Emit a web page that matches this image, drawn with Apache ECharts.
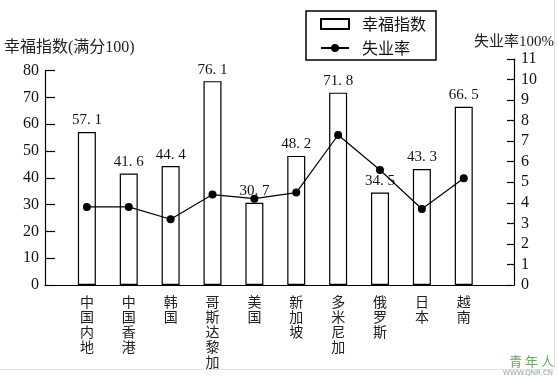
<!DOCTYPE html>
<html>
<head>
<meta charset="utf-8">
<script src="https://cdn.jsdelivr.net/npm/echarts@6/dist/echarts.min.js"></script>
<style>
html,body{margin:0;padding:0;background:#fff;}
#chart{width:558px;height:379px;}
</style>
</head>
<body>
<div id="chart"></div>
<script>
var categories = ['中国内地','中国香港','韩国','哥斯达黎加','美国','新加坡','多米尼加','俄罗斯','日本','越南'];
var happiness = [57.1, 41.6, 44.4, 76.1, 30.7, 48.2, 71.8, 34.5, 43.3, 66.5];
var unemployment = [3.8, 3.8, 3.2, 4.4, 4.2, 4.5, 7.3, 5.6, 3.7, 5.2];
var leftTicks = {min: 0, max: 80, interval: 10};
var rightTicks = {min: 0, max: 11, interval: 1};

var SERIF = '"Liberation Serif","DejaVu Serif","Noto Sans CJK SC",serif';
var CJK = '"Noto Sans CJK SC",sans-serif';

var chart = echarts.init(document.getElementById('chart'));
var xMin = -1, xMax = 10.2;

chart.setOption({
  backgroundColor: '#fff',
  animation: false,
  title: {
    text: '幸福指数(满分100)',
    left: 4, top: 40, padding: 0,
    textStyle: {fontFamily: SERIF, fontSize: 16, fontWeight: 'normal', color: '#222'}
  },
  legend: {
    data: [{name: '幸福指数', icon: 'rect'}, {name: '失业率'}],
    orient: 'vertical',
    left: 306,
    top: 11,
    padding: [5, 10, 4, 14],
    itemWidth: 28,
    itemHeight: 10,
    itemGap: 8,
    borderColor: '#000',
    borderWidth: 1.5,
    textStyle: {fontFamily: CJK, fontSize: 16, color: '#111', padding: [0, 0, 0, 8]}
  },
  grid: [
    {left: 45, right: 44, top: 70.7, bottom: 94},
    {left: 45, right: 44, top: 59, bottom: 94}
  ],
  xAxis: [
    {
      type: 'value', gridIndex: 0, min: xMin, max: xMax, interval: 1,
      axisLine: {show: true, onZero: false, lineStyle: {color: '#000', width: 1.2}},
      axisTick: {show: false},
      splitLine: {show: false},
      axisLabel: {
        showMaxLabel: false, showMinLabel: false,
        margin: 9,
        fontFamily: CJK, fontSize: 14, lineHeight: 15, color: '#222',
        verticalAlign: 'top',
        formatter: function (v) {
          var i = Math.round(v);
          if (Math.abs(v - i) > 1e-6 || i < 0 || i >= categories.length) return '';
          return categories[i].split('').join('\n');
        }
      }
    },
    {
      type: 'value', gridIndex: 1, min: xMin, max: xMax, interval: 1, show: false,
      axisLine: {onZero: false}
    }
  ],
  yAxis: [
    {
      type: 'value', gridIndex: 0, position: 'left',
      min: leftTicks.min, max: leftTicks.max, interval: leftTicks.interval,
      axisLine: {show: true, onZero: false, lineStyle: {color: '#000', width: 1.2}},
      axisTick: {show: true, inside: true, length: 10, lineStyle: {color: '#000', width: 1.2}},
      splitLine: {show: false},
      axisLabel: {margin: 6, fontFamily: SERIF, fontSize: 16, color: '#111'}
    },
    {
      type: 'value', gridIndex: 1, position: 'right',
      min: rightTicks.min, max: rightTicks.max, interval: rightTicks.interval,
      name: '失业率100%',
      nameLocation: 'end',
      nameGap: 9,
      nameTextStyle: {fontFamily: SERIF, fontSize: 15, color: '#222', align: 'center'},
      axisLine: {show: true, onZero: false, lineStyle: {color: '#000', width: 1.2}},
      axisTick: {show: true, inside: true, length: 7, lineStyle: {color: '#000', width: 1.2}},
      splitLine: {show: false},
      axisLabel: {margin: 7, fontFamily: SERIF, fontSize: 16, color: '#111'}
    }
  ],
  series: [
    {
      name: '幸福指数',
      type: 'bar',
      xAxisIndex: 0, yAxisIndex: 0,
      barWidth: 18,
      data: happiness.map(function (v, i) { return [i, v]; }),
      itemStyle: {color: '#fff', borderColor: '#000', borderWidth: 1.2},
      label: {
        show: true, position: 'top', distance: 4,
        fontFamily: SERIF, fontSize: 15, color: '#111',
        formatter: function (p) { return String(p.value[1]).replace('.', '. '); }
      },
      z: 2
    },
    {
      name: '失业率',
      type: 'line',
      xAxisIndex: 1, yAxisIndex: 1,
      data: unemployment.map(function (v, i) { return [i, v]; }),
      symbol: 'circle',
      symbolSize: 8,
      itemStyle: {color: '#000'},
      lineStyle: {color: '#000', width: 1.2},
      z: 5
    }
  ],
  graphic: [
    {type: 'line', shape: {x1: 0, y1: 369.5, x2: 554, y2: 369.5}, style: {stroke: '#e2e2e2', lineWidth: 1}, silent: true},
    {type: 'line', shape: {x1: 554.5, y1: 0, x2: 554.5, y2: 369}, style: {stroke: '#e2e2e2', lineWidth: 1}, silent: true},
    {type: 'text', right: 4, top: 355, style: {text: '青 年 人', fill: '#6aa86a', font: '13px "Noto Sans CJK SC"'}, silent: true},
    {type: 'text', right: 5, top: 370, style: {text: 'WWW.QNR.CN', fill: '#8aa88a', font: '7px "DejaVu Sans"'}, silent: true}
  ]
});
</script>
</body>
</html>
